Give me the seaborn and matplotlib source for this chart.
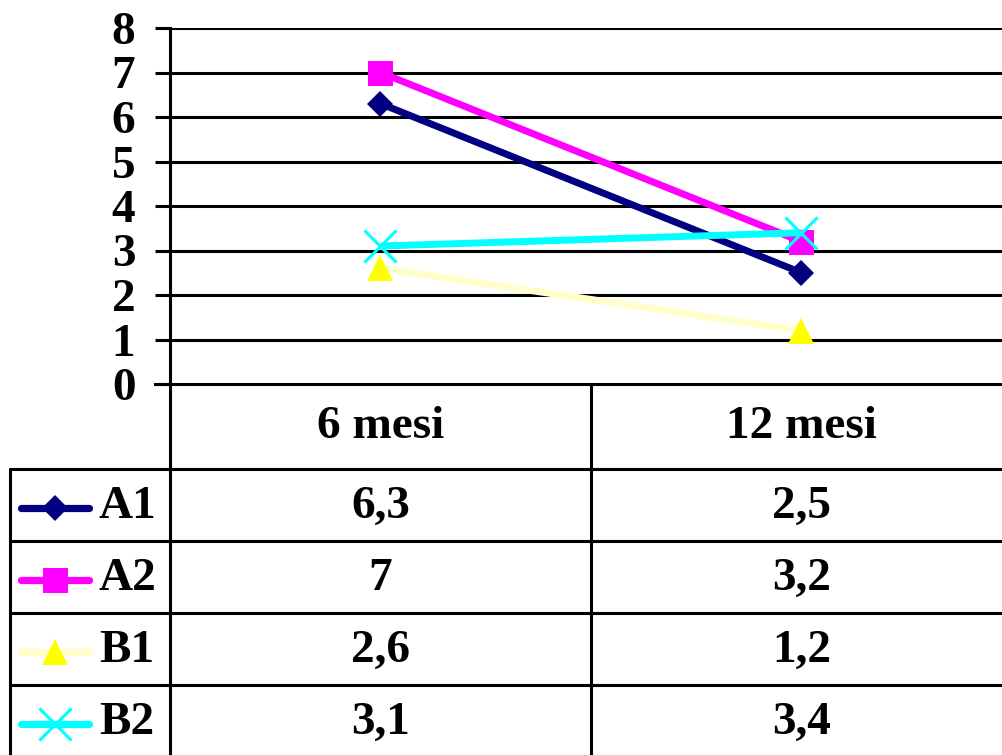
import matplotlib
matplotlib.use("Agg")
import matplotlib.pyplot as plt
import matplotlib.transforms as mtransforms
from matplotlib.lines import Line2D
import seaborn as sns
import pandas as pd

# --- data -------------------------------------------------------------
categories = ["6 mesi", "12 mesi"]
series_names = ["A1", "A2", "B1", "B2"]
a1_values = [6.3, 2.5]
a2_values = [7.0, 3.2]
b1_values = [2.6, 1.2]
b2_values = [3.1, 3.4]
y_ticks = [0, 1, 2, 3, 4, 5, 6, 7, 8]

series_values = [a1_values, a2_values, b1_values, b2_values]

# --- styles -----------------------------------------------------------
line_colors = ["#000080", "#FF00FF", "#FFFFCC", "#00FFFF"]
marker_colors = ["#000080", "#FF00FF", "#FFFF00", "#00FFFF"]
markers = ["D", "s", "^", "x"]
marker_sizes = [13.5, 18, 18.5, 23]

sns.set_style("white")
plt.rcParams["font.family"] = ["Liberation Serif", "DejaVu Serif"]
plt.rcParams["font.weight"] = "bold"
plt.rcParams["text.color"] = "black"
plt.rcParams["axes.labelcolor"] = "black"
plt.rcParams["xtick.color"] = "black"
plt.rcParams["ytick.color"] = "black"

W, H = 1003, 755
fig = plt.figure(figsize=(W / 100, H / 100), dpi=100)
fig.patch.set_facecolor("white")

# plot area (extends slightly past the right edge of the canvas)
ax_left, ax_right, ax_top, ax_bottom = 170, 1012, 28, 384
ax = fig.add_axes([ax_left / W, (H - ax_bottom) / H,
                   (ax_right - ax_left) / W, (ax_bottom - ax_top) / H])
ax.set_facecolor("white")

def fmt(v):
    s = ("%g" % v)
    return s.replace(".", ",")

positions = list(range(len(categories)))
for name, vals, lc, mc, mk, ms in zip(series_names, series_values,
                                        line_colors, marker_colors,
                                        markers, marker_sizes):
    df = pd.DataFrame({"pos": positions, "value": vals})
    sns.lineplot(data=df, x="pos", y="value", ax=ax, color=lc, lw=5,
                 marker=mk, markersize=ms, markerfacecolor=mc,
                 markeredgecolor=mc, markeredgewidth=2.2 if mk == "x" else 0,
                 solid_capstyle="butt", zorder=3)

ax.set_xlim(-0.5, len(categories) - 0.5)
ax.set_ylim(0, 8)
ax.set_yticks(y_ticks)
ax.set_yticklabels([str(t) for t in y_ticks], fontsize=34, fontweight="bold",
                   color="black")
ax.set_xticks([])
ax.set_xlabel("")
ax.set_ylabel("")
ax.grid(False)
for t in y_ticks[1:]:
    ax.axhline(t, color="black", lw=2.2, zorder=1)
ax.tick_params(axis="y", direction="out", length=11, width=2.2,
               pad=14, colors="black", left=True)
for side in ["top", "right"]:
    ax.spines[side].set_visible(False)
for side in ["left", "bottom"]:
    ax.spines[side].set_visible(True)
    ax.spines[side].set_color("black")
    ax.spines[side].set_linewidth(2.2)
ax.spines["bottom"].set_bounds(-0.5 - 15 / 421, len(categories) - 0.5)
ax.spines["bottom"].set_zorder(1)

# --- data table below the plot ------------------------------------------
tax = fig.add_axes([0, 0, 1, 1], facecolor="none")
tax.set_xlim(0, W)
tax.set_ylim(H, 0)
tax.axis("off")
bt = mtransforms.blended_transform_factory(ax.transData, tax.transData)

header_top = ax_bottom
row_edges = [469, 541, 613, 685, 757]
table_left = 10
tlw = 2.2

# vertical rules
tax.plot([ax_left, ax_left], [header_top, H + 5], color="black", lw=tlw)
tax.plot([table_left, table_left], [row_edges[0], H + 5], color="black", lw=tlw)
tax.plot([0.5, 0.5], [header_top, H + 5], color="black", lw=tlw,
         transform=bt)
# horizontal rules
for y in row_edges[:-1]:
    tax.plot([table_left, W + 10], [y, y], color="black", lw=tlw)

# header row
header_y = (header_top + row_edges[0]) / 2
for i, cat in enumerate(categories):
    tax.text(i, header_y, cat, transform=bt, ha="center", va="center",
             fontsize=34, fontweight="bold", color="black")

# data rows with legend keys
for r, (name, vals, lc, mc, mk, ms) in enumerate(zip(series_names, series_values,
                                                     line_colors, marker_colors,
                                                     markers, marker_sizes)):
    yc = (row_edges[r] + row_edges[r + 1]) / 2
    tax.add_line(Line2D([21, 89], [yc + 3, yc + 3], color=lc, lw=5.2,
                        solid_capstyle="round"))
    tax.add_line(Line2D([55], [yc + 3], marker=mk, markersize=ms,
                        markerfacecolor=mc, markeredgecolor=mc,
                        markeredgewidth=2.2 if mk == "x" else 0))
    tax.text(99, yc + 2, name, ha="left", va="center", fontsize=34,
             fontweight="bold", color="black")
    for i, v in enumerate(vals):
        tax.text(i, yc + 2, fmt(v), transform=bt, ha="center", va="center",
                 fontsize=34, fontweight="bold", color="black")

fig.savefig("out.png", dpi=100, facecolor="white")
